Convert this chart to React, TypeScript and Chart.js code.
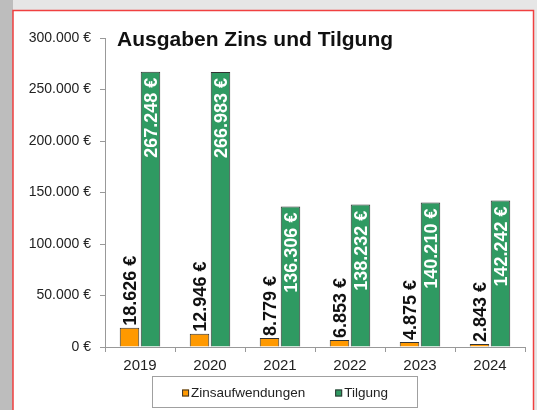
import React, { useEffect, useRef } from 'react';
import { Chart, registerables } from 'chart.js';

Chart.register(...registerables);

const years = ['2019', '2020', '2021', '2022', '2023', '2024'];
const zinsaufwendungen = [18626, 12946, 8779, 6853, 4875, 2843];
const tilgung = [267248, 266983, 136306, 138232, 140210, 142242];
const yTickValues = [0, 50000, 100000, 150000, 200000, 250000, 300000];
const seriesNames = ['Zinsaufwendungen', 'Tilgung'];
const chartTitle = 'Ausgaben Zins und Tilgung';

const ORANGE = '#ff9900';
const GREEN = '#2f9a62';
const FONT = '"Liberation Sans", Arial, sans-serif';

const fmt = (v: number) =>
  String(v).replace(/\B(?=(\d{3})+(?!\d))/g, '.') + ' €';

const framePlugin = {
  id: 'frame',
  beforeDraw(chart: any) {
    const ctx = chart.ctx;
    const W = chart.width;
    const H = chart.height;
    ctx.save();
    ctx.fillStyle = '#e6e6e6';
    ctx.fillRect(0, 0, W, H);
    ctx.fillStyle = '#bdbdbd';
    ctx.fillRect(0, 0, 13, H);
    ctx.fillStyle = '#ffffff';
    ctx.fillRect(13, 10, 521, H);
    ctx.strokeStyle = '#f04040';
    ctx.lineWidth = 1.5;
    ctx.strokeRect(13, 10.5, 520.5, H + 10);
    ctx.restore();
  },
};

const decorPlugin = {
  id: 'decor',
  afterDatasetsDraw(chart: any) {
    const ctx = chart.ctx;
    ctx.save();
    chart.data.datasets.forEach((ds: any, di: number) => {
      const meta = chart.getDatasetMeta(di);
      meta.data.forEach((bar: any, i: number) => {
        const v = ds.data[i] as number;
        ctx.save();
        ctx.font = `bold 18px ${FONT}`;
        ctx.textBaseline = 'middle';
        if (di === 0) {
          ctx.translate(bar.x + 1, bar.y - 2);
          ctx.rotate(-Math.PI / 2);
          ctx.textAlign = 'left';
          ctx.fillStyle = '#111111';
        } else {
          ctx.translate(bar.x + 1, bar.y + 6);
          ctx.rotate(-Math.PI / 2);
          ctx.textAlign = 'right';
          ctx.fillStyle = '#ffffff';
        }
        ctx.fillText(fmt(v), 0, 1);
        ctx.restore();
      });
    });
    ctx.restore();
  },
  afterDraw(chart: any) {
    const ctx = chart.ctx;
    ctx.save();
    ctx.font = `bold 21px ${FONT}`;
    ctx.fillStyle = '#111111';
    ctx.textAlign = 'left';
    ctx.textBaseline = 'alphabetic';
    ctx.fillText(chartTitle, 117, 46);

    const bx = 152.5, by = 376.5, bw = 265, bh = 31;
    ctx.fillStyle = '#ffffff';
    ctx.fillRect(bx, by, bw, bh);
    ctx.strokeStyle = '#a0a0a0';
    ctx.lineWidth = 1;
    ctx.strokeRect(bx, by, bw, bh);
    ctx.font = `13.5px ${FONT}`;
    const sq = 7, gap = 2, itemGap = 30;
    const widths = chart.data.datasets.map((d: any) => ctx.measureText(d.label).width);
    const total = widths.reduce((a: number, w: number) => a + sq + gap + w, 0) + itemGap * (widths.length - 1);
    let x = bx + bw / 2 - total / 2;
    const cy = by + bh / 2 + 1;
    chart.data.datasets.forEach((d: any, i: number) => {
      ctx.fillStyle = d.backgroundColor;
      ctx.fillRect(x, cy - sq / 2, sq, sq);
      ctx.strokeStyle = '#333333';
      ctx.strokeRect(x + 0.5, cy - sq / 2 + 0.5, sq - 1, sq - 1);
      x += sq + gap;
      ctx.fillStyle = '#222222';
      ctx.textBaseline = 'middle';
      ctx.textAlign = 'left';
      ctx.fillText(d.label, x, cy);
      x += widths[i] + itemGap;
    });
    ctx.restore();
  },
};

export default function App() {
  const ref = useRef<HTMLCanvasElement>(null);
  useEffect(() => {
    document.body.style.margin = '0';
    const canvas = ref.current!;
    const chart = new Chart(canvas, {
      type: 'bar',
      data: {
        labels: years,
        datasets: [
          {
            label: seriesNames[0],
            data: zinsaufwendungen,
            backgroundColor: ORANGE,
            borderColor: '#333333',
            borderWidth: 1,
            categoryPercentage: 0.6,
            barPercentage: 0.93,
          },
          {
            label: seriesNames[1],
            data: tilgung,
            backgroundColor: GREEN,
            borderColor: '#333333',
            borderWidth: 1,
            categoryPercentage: 0.6,
            barPercentage: 0.93,
          },
        ],
      },
      options: {
        responsive: false,
        animation: false,
        devicePixelRatio: 1,
        layout: { padding: { left: 0, right: 12, top: 38, bottom: 33 } },
        plugins: {
          legend: { display: false },
          title: { display: false },
          tooltip: { enabled: false },
        },
        scales: {
          x: {
            grid: {
              display: true,
              drawOnChartArea: false,
              offset: true,
              tickLength: 5,
              color: '#999999',
            },
            border: { color: '#999999', width: 1 },
            ticks: {
              color: '#222222',
              font: { family: FONT, size: 15 },
              padding: 5,
            },
            afterFit: (s: any) => {
              s.height = 30;
            },
          },
          y: {
            min: 0,
            max: 300000,
            afterBuildTicks: (s: any) => {
              s.ticks = yTickValues.map((v) => ({ value: v }));
            },
            grid: {
              display: true,
              drawOnChartArea: false,
              tickLength: 5,
              color: '#999999',
            },
            border: { color: '#999999', width: 1 },
            ticks: {
              color: '#222222',
              font: { family: FONT, size: 14 },
              padding: 9,
              callback: (v: any) => fmt(Number(v)),
            },
            afterFit: (s: any) => {
              s.width = 105;
            },
          },
        },
      },
      plugins: [framePlugin, decorPlugin],
    });
    return () => chart.destroy();
  }, []);
  return <canvas ref={ref} width={537} height={410} style={{ display: 'block' }} />;
}
